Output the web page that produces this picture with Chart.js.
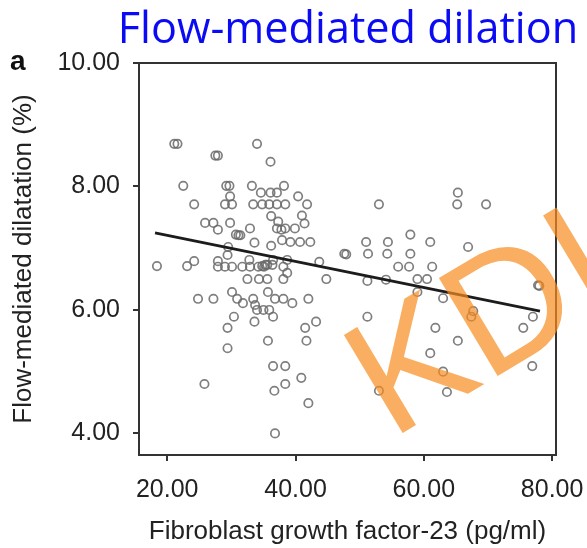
<!DOCTYPE html>
<html>
<head>
<meta charset="utf-8">
<title>FGF-23 vs flow-mediated dilatation</title>
<script src="https://cdn.jsdelivr.net/npm/chart.js@4.4.0/dist/chart.umd.min.js"></script>
<style>
  html, body { margin: 0; padding: 0; background: #fff; }
  #wrap { width: 587px; height: 548px; }
</style>
</head>
<body>
<div id="wrap"><canvas id="fmd-chart" width="587" height="548"></canvas></div>
<script>
// FGF-23 (pg/ml) and FMD (%) per patient, same order in both arrays
const fgf23 = [
  21.1, 21.6, 27.5, 27.9, 34.0, 36.1, 22.5, 29.2, 29.7, 33.2,
  38.2, 29.8, 34.6, 36.1, 37.1, 40.4, 24.2, 29.0, 30.1, 33.4,
  34.8, 35.9, 37.1, 38.4, 41.8, 36.2, 41.0, 37.3, 41.4, 25.9,
  27.2, 27.9, 29.8, 30.7, 31.1, 31.4, 32.9, 37.1, 37.8, 38.4,
  39.9, 33.6, 36.2, 37.9, 39.2, 40.7, 42.3, 18.4, 23.1, 24.2,
  27.9, 29.4, 29.5, 27.9, 29.0, 30.1, 31.7, 32.9, 34.2, 34.8,
  35.3, 35.6, 36.4, 38.1, 32.8, 36.5, 38.7, 43.7, 32.5, 34.3,
  35.6, 38.1, 44.8, 38.7, 30.1, 35.7, 24.8, 27.2, 30.9, 31.8,
  33.4, 33.7, 36.8, 38.1, 39.5, 42.0, 34.0, 35.0, 35.9, 30.4,
  36.5, 33.6, 43.2, 41.5, 29.4, 35.7, 41.7, 29.4, 36.5, 38.4,
  40.9, 38.4, 36.7, 25.8, 42.0, 36.8, 35.1,
  53.0, 51.0, 54.4, 57.9, 61.0, 47.6, 47.9, 51.3, 54.3, 57.9,
  56.0, 57.7, 61.3, 66.9, 65.3, 65.2, 69.7, 59.0, 60.5, 51.2,
  54.1, 59.0, 63.0, 51.2, 61.8, 61.0, 63.0, 53.0, 63.6, 65.3,
  67.4, 67.7, 78.0, 77.8, 77.0, 75.5, 76.9
];
const fmd = [
  8.69, 8.69, 8.50, 8.50, 8.69, 8.40, 8.01, 8.01, 8.01, 8.01,
  8.01, 7.84, 7.90, 7.90, 7.90, 7.84, 7.71, 7.71, 7.71, 7.71,
  7.71, 7.71, 7.71, 7.71, 7.71, 7.52, 7.53, 7.43, 7.40, 7.41,
  7.41, 7.30, 7.41, 7.22, 7.21, 7.21, 7.32, 7.32, 7.30, 7.32,
  7.32, 7.09, 7.04, 7.13, 7.10, 7.10, 7.10, 6.71, 6.71, 6.79,
  6.79, 6.89, 7.02, 6.70, 6.70, 6.70, 6.70, 6.70, 6.70, 6.71,
  6.73, 6.73, 6.73, 6.70, 6.81, 6.81, 6.81, 6.78, 6.50, 6.50,
  6.50, 6.50, 6.50, 6.60, 6.29, 6.29, 6.18, 6.18, 6.18, 6.11,
  6.18, 6.08, 6.18, 6.18, 6.11, 6.18, 6.00, 6.00, 6.00, 5.89,
  5.89, 5.81, 5.81, 5.71, 5.71, 5.50, 5.50, 5.38, 5.09, 5.09,
  4.90, 4.80, 4.69, 4.80, 4.49, 4.00, 6.70,
  7.71, 7.10, 7.10, 7.22, 7.10, 6.91, 6.90, 6.91, 6.91, 6.91,
  6.70, 6.70, 6.70, 7.02, 7.90, 7.71, 7.71, 6.50, 6.50, 6.47,
  6.49, 6.29, 6.19, 5.89, 5.71, 5.30, 5.00, 4.69, 4.67, 5.50,
  5.89, 5.98, 6.39, 6.40, 5.89, 5.71, 5.09
];

// least-squares line end points
const fitX = [18.1, 78.1];
const fitY = [7.25, 5.98];

const xTicks = [20, 40, 60, 80];
const yTicks = [4, 6, 8, 10];

const points = fgf23.map((v, i) => ({ x: v, y: fmd[i] }));
const fitLine = fitX.map((v, i) => ({ x: v, y: fitY[i] }));

const sans = '"Liberation Sans", Arial, Helvetica, sans-serif';

// box around the plot, panel letter, heading and the orange stamp
const decorations = {
  id: 'decorations',
  afterDraw(chart) {
    const { ctx, chartArea: a } = chart;
    ctx.save();
    ctx.strokeStyle = '#333';
    ctx.lineWidth = 2;
    ctx.strokeRect(a.left, a.top, a.right - a.left, a.bottom - a.top);

    ctx.fillStyle = '#111';
    ctx.font = 'bold 28px ' + sans;
    ctx.textAlign = 'left';
    ctx.textBaseline = 'alphabetic';
    ctx.fillText('a', 10, 70);

    // heading, sized to span its slot
    const heading = 'Flow-mediated dilation';
    ctx.font = '36px "Open Sans", "Noto Sans", sans-serif';
    const size = 36 * 460 / ctx.measureText(heading).width;
    ctx.font = size.toFixed(1) + 'px "Open Sans", "Noto Sans", sans-serif';
    ctx.fillStyle = '#0a0af5';
    ctx.textAlign = 'center';
    ctx.fillText(heading, 348, 43);

    ctx.translate(391, 440);
    ctx.rotate(-31 * Math.PI / 180);
    ctx.font = '166px ' + sans;
    ctx.textAlign = 'left';
    ctx.fillStyle = 'rgba(247,140,30,0.7)';
    ctx.strokeStyle = 'rgba(247,140,30,0.7)';
    ctx.lineWidth = 9;
    ctx.lineJoin = 'round';
    ctx.fillText('KDIGO', 0, 0);
    ctx.restore();
  }
};

const ctx = document.getElementById('fmd-chart').getContext('2d');
new Chart(ctx, {
  type: 'scatter',
  data: {
    datasets: [
      {
        label: 'Fit',
        type: 'line',
        data: fitLine,
        borderColor: '#1c1c1c',
        borderWidth: 2.8,
        pointRadius: 0,
        fill: false,
        order: 1
      },
      {
        label: 'Patients',
        data: points,
        pointRadius: 4.2,
        pointBorderWidth: 1.7,
        pointBorderColor: 'rgba(105,105,105,0.85)',
        pointBackgroundColor: 'rgba(0,0,0,0)',
        order: 2
      }
    ]
  },
  options: {
    responsive: false,
    animation: false,
    devicePixelRatio: 1,
    layout: { padding: { top: 63, right: 31, left: 0, bottom: 0 } },
    plugins: { legend: { display: false }, tooltip: { enabled: false } },
    scales: {
      x: {
        type: 'linear',
        min: 15.6,
        max: 80.6,
        afterFit: (s) => { s.height = 93; s.paddingLeft = 0; s.paddingRight = 0; },
        afterBuildTicks: (s) => { s.ticks = xTicks.map(v => ({ value: v })); },
        grid: { drawOnChartArea: false, drawTicks: true, tickLength: 6, color: '#333', lineWidth: 2 },
        border: { display: false },
        ticks: {
          font: { family: sans, size: 25 },
          color: '#222',
          padding: 14,
          maxRotation: 0,
          callback: (v) => Number(v).toFixed(2)
        },
        title: {
          display: true,
          text: 'Fibroblast growth factor-23 (pg/ml)',
          font: { family: sans, size: 26 },
          color: '#222',
          padding: { top: 0, bottom: 1 }
        }
      },
      y: {
        type: 'linear',
        min: 3.65,
        max: 10,
        afterFit: (s) => { s.width = 139; },
        afterBuildTicks: (s) => { s.ticks = yTicks.map(v => ({ value: v })); },
        grid: { drawOnChartArea: false, drawTicks: true, tickLength: 6, color: '#333', lineWidth: 2 },
        border: { display: false },
        ticks: {
          font: { family: sans, size: 25 },
          color: '#222',
          padding: 13,
          callback: (v) => Number(v).toFixed(2)
        },
        title: {
          display: true,
          text: 'Flow-mediated dilatation (%)',
          font: { family: sans, size: 26 },
          color: '#222',
          padding: { top: 8, bottom: 0 }
        }
      }
    }
  },
  plugins: [decorations]
});
</script>
</body>
</html>
